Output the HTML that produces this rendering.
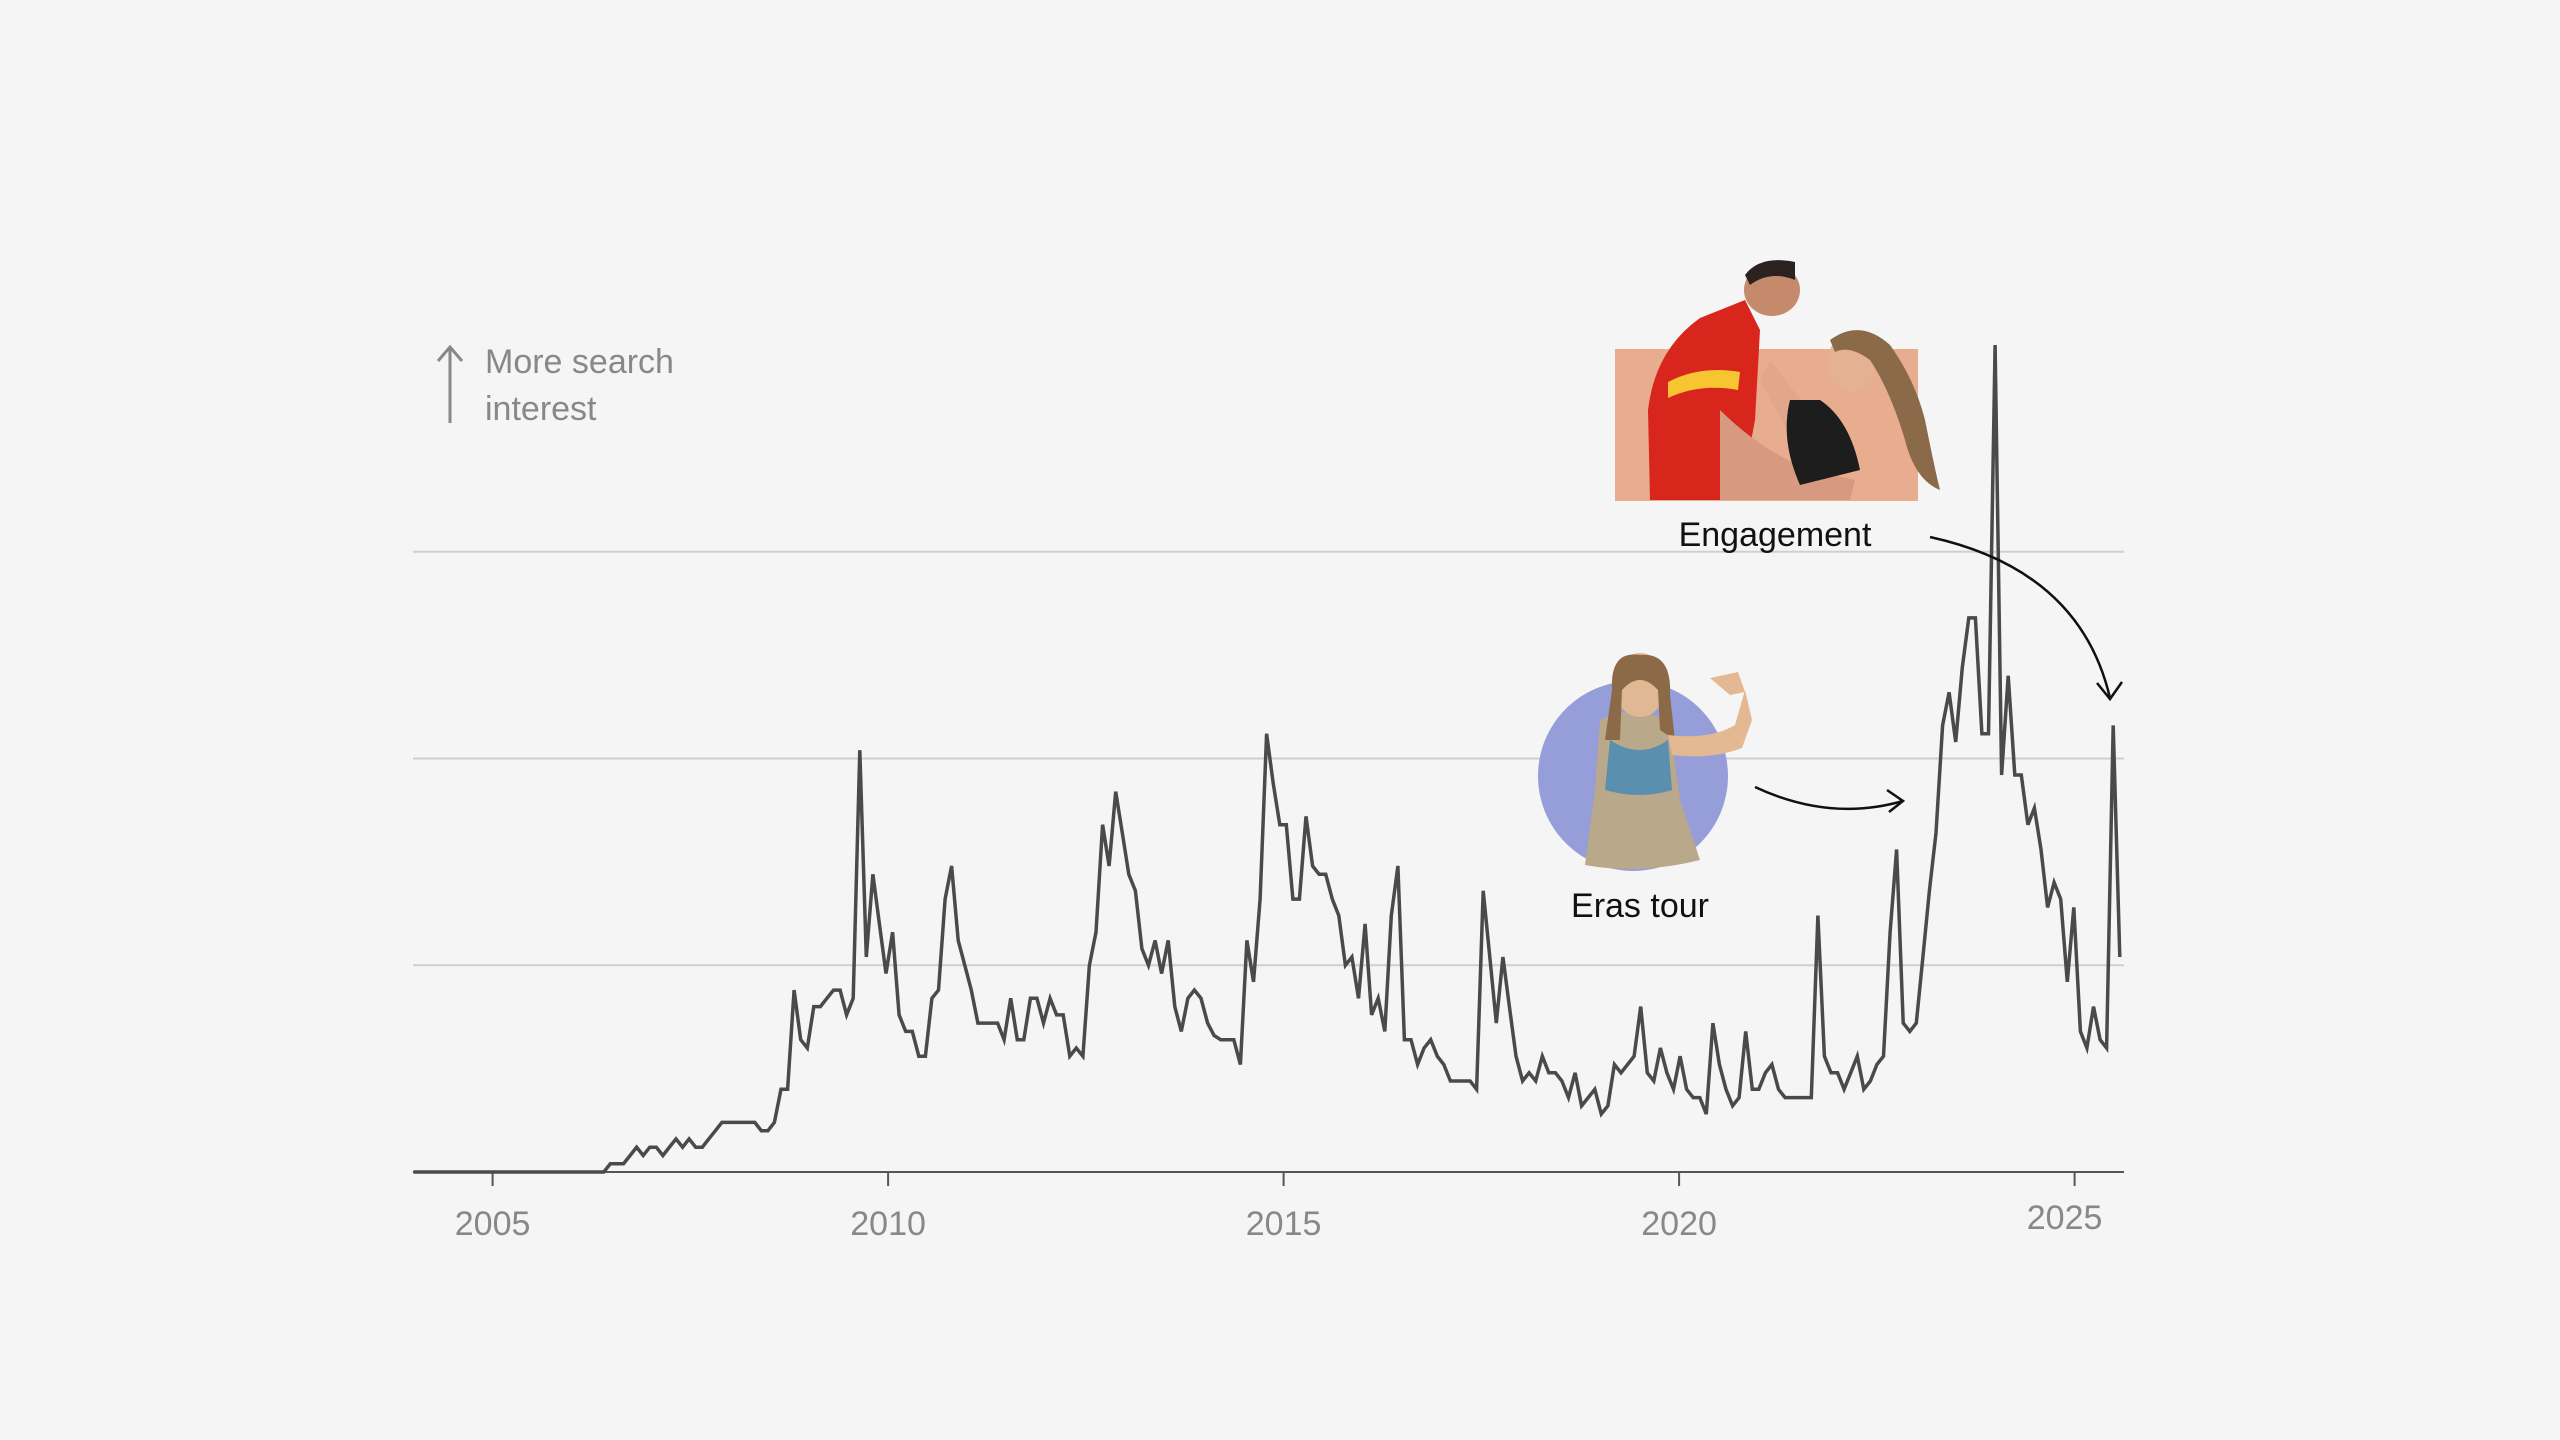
<!DOCTYPE html>
<html><head><meta charset="utf-8"><style>
html,body{margin:0;padding:0;background:#f5f5f5;}
svg{display:block;font-family:"Liberation Sans",sans-serif;}
</style></head><body>
<svg id="chart" width="2560" height="1440" viewBox="0 0 2560 1440" xmlns="http://www.w3.org/2000/svg">
<rect x="0" y="0" width="2560" height="1440" fill="#f5f5f5"/>
<g id="grid"></g>
<g id="axis"></g>
<g id="series"></g>

<g>
  <line x1="450" y1="347" x2="450" y2="423" stroke="#888" stroke-width="3"/>
  <polyline points="438,361 450,347 462,361" fill="none" stroke="#888" stroke-width="3"/>
  <text x="485" y="373" font-size="34" fill="#888">More search</text>
  <text x="485" y="420" font-size="34" fill="#888">interest</text>
</g>

<g>
  <rect x="1615" y="349" width="303" height="152" fill="#e8ac8f"/>
  <path d="M1650 500 L1648 410 Q1655 350 1700 318 L1745 300 L1760 330 L1755 420 L1740 500 Z" fill="#d9261c"/>
  <path d="M1668 382 Q1700 365 1740 372 L1738 390 Q1700 383 1668 398 Z" fill="#f7c531"/>
  <ellipse cx="1772" cy="290" rx="28" ry="26" fill="#c58a6c"/>
  <path d="M1745 275 Q1760 255 1795 262 L1795 280 Q1770 270 1750 285 Z" fill="#2b2220"/>
  <path d="M1720 410 Q1760 450 1810 470 L1855 480 L1850 500 L1720 500 Z" fill="#d79a80"/>
  <path d="M1770 360 Q1810 410 1850 470 L1820 480 Q1790 440 1760 380 Z" fill="#e2a78b"/>
  <path d="M1820 400 Q1850 420 1860 470 L1800 485 Q1780 440 1790 400 Z" fill="#1d1d1d"/>
  <ellipse cx="1852" cy="362" rx="24" ry="30" fill="#e4b193"/>
  <path d="M1830 340 Q1860 318 1890 345 Q1915 380 1925 420 Q1935 470 1940 490 Q1915 480 1905 440 Q1890 390 1870 360 Q1850 345 1835 352 Z" fill="#8a6a48"/>
</g>
<text x="1775" y="546" font-size="34" fill="#111" text-anchor="middle">Engagement</text>
<g fill="none" stroke="#111" stroke-width="2.5">
  <path d="M1930 537 Q2080 570 2110 698"/>
  <polyline points="2097,683 2110,699 2122,682"/>
</g>

<g>
  <circle cx="1633" cy="776" r="95" fill="#959ed8"/>
  <path d="M1600 720 Q1640 700 1670 725 L1680 800 L1700 860 Q1640 875 1585 865 L1595 790 Z" fill="#b9a88a"/>
  <path d="M1610 740 Q1640 760 1668 740 L1672 790 Q1640 800 1605 790 Z" fill="#5a8fb0"/>
  <ellipse cx="1640" cy="685" rx="26" ry="32" fill="#e0b894"/>
  <path d="M1612 690 Q1610 650 1640 655 Q1672 652 1670 695 L1675 740 L1660 730 L1658 690 Q1640 670 1622 690 L1620 740 L1605 740 Z" fill="#8d6a47"/>
  <path d="M1668 735 Q1710 740 1735 725 L1745 690 L1752 720 L1742 748 Q1710 760 1672 755 Z" fill="#e3b893"/>
  <path d="M1710 678 L1738 672 L1745 692 L1730 695 Z" fill="#e3b893"/>
</g>
<text x="1640" y="917" font-size="34" fill="#111" text-anchor="middle">Eras tour</text>
<g fill="none" stroke="#111" stroke-width="2.5">
  <path d="M1755 787 Q1830 822 1903 801"/>
  <polyline points="1887,790 1903,801 1889,812"/>
</g>
</svg>
<script>
const years = [2005, 2010, 2015, 2020, 2025];
const gridValues = [25, 50, 75];
const startYear = 2004;
const interest = [
0,0,0,0,0,0,0,0,0,0,0,0,0,0,0,0,0,0,0,0,0,0,0,0,0,0,0,0,0,0,
1,1,1,2,3,2,3,3,2,3,4,3,4,3,3,4,5,6,6,6,6,6,6,5,5,6,10,10,22,16,
15,20,20,21,22,22,19,21,51,26,36,30,24,29,19,17,17,14,14,21,22,33,37,28,25,22,18,18,18,18,
16,21,16,16,21,21,18,21,19,19,14,15,14,25,29,42,37,46,41,36,34,27,25,28,24,28,20,17,21,22,
21,18,16.5,16,16,16,13,28,23,33,53,47,42,42,33,33,43,37,36,36,33,31,25,26,21,30,19,21,17,31,
37,16,16,13,15,16,14,13,11,11,11,11,10,34,26,18,26,20,14,11,12,11,14,12,12,11,9,12,8,9,
10,7,8,13,12,13,14,20,12,11,15,12,10,14,10,9,9,7,18,13,10,8,9,17,10,10,12,13,10,9,
9,9,9,9,31,14,12,12,10,12,14,10,11,13,14,29,39,18,17,18,26,34,41,54,58,52,61,67,67,53,
53,100,48,60,48,48,42,44,39,32,35,33,23,32,17,15,20,16,15,54,26
];
const NS = 'http://www.w3.org/2000/svg';
const x0 = 413.5, pxPerYear = 79.1, yBase = 1172, pxPerUnit = 8.27;
const xRight = 2124;
function xMonth(i){ return x0 + i * (pxPerYear - 0.35) / 12; }
function xYear(y){ return x0 + (y - startYear) * pxPerYear; }
function yVal(v){ return yBase - v * pxPerUnit; }

const grid = document.getElementById('grid');
gridValues.forEach(v => {
  const l = document.createElementNS(NS, 'line');
  
  
  l.setAttribute('x1', 413); l.setAttribute('x2', 2124);
  l.setAttribute('y1', yVal(v)); l.setAttribute('y2', yVal(v));
  l.setAttribute('stroke', '#cfcfcf'); l.setAttribute('stroke-width', '2');
  grid.appendChild(l);
});

const axis = document.getElementById('axis');
const base = document.createElementNS(NS, 'line');


base.setAttribute('x1', 413); base.setAttribute('x2', 2124);
base.setAttribute('y1', yBase); base.setAttribute('y2', yBase);
base.setAttribute('stroke', '#555'); base.setAttribute('stroke-width', '2');
axis.appendChild(base);
years.forEach(yr => {
  const x = xYear(yr);
  const t = document.createElementNS(NS, 'line');
  
  
  t.setAttribute('x1', x); t.setAttribute('x2', x);
  t.setAttribute('y1', yBase); t.setAttribute('y2', yBase + 14);
  t.setAttribute('stroke', '#555'); t.setAttribute('stroke-width', '2');
  axis.appendChild(t);
  const lbl = document.createElementNS(NS, 'text');
  
  
  lbl.setAttribute('x', yr === 2025 ? x - 10 : x);
  lbl.setAttribute('y', yr === 2025 ? 1229 : 1235);
  lbl.setAttribute('font-size', '34');
  lbl.setAttribute('fill', '#888');
  lbl.setAttribute('text-anchor', 'middle');
  lbl.textContent = String(yr);
  axis.appendChild(lbl);
});

const series = document.getElementById('series');
const path = document.createElementNS(NS, 'path');


let d = '';
interest.forEach((v, i) => {
  d += (i === 0 ? 'M' : 'L') + Math.min(xMonth(i), xRight).toFixed(1) + ' ' + yVal(v).toFixed(1) + ' ';
});
path.setAttribute('d', d);
path.setAttribute('fill', 'none');
path.setAttribute('stroke', '#4a4a4a');
path.setAttribute('stroke-width', '3.5');
path.setAttribute('stroke-linejoin', 'miter');
series.appendChild(path);
</script>
</body></html>
